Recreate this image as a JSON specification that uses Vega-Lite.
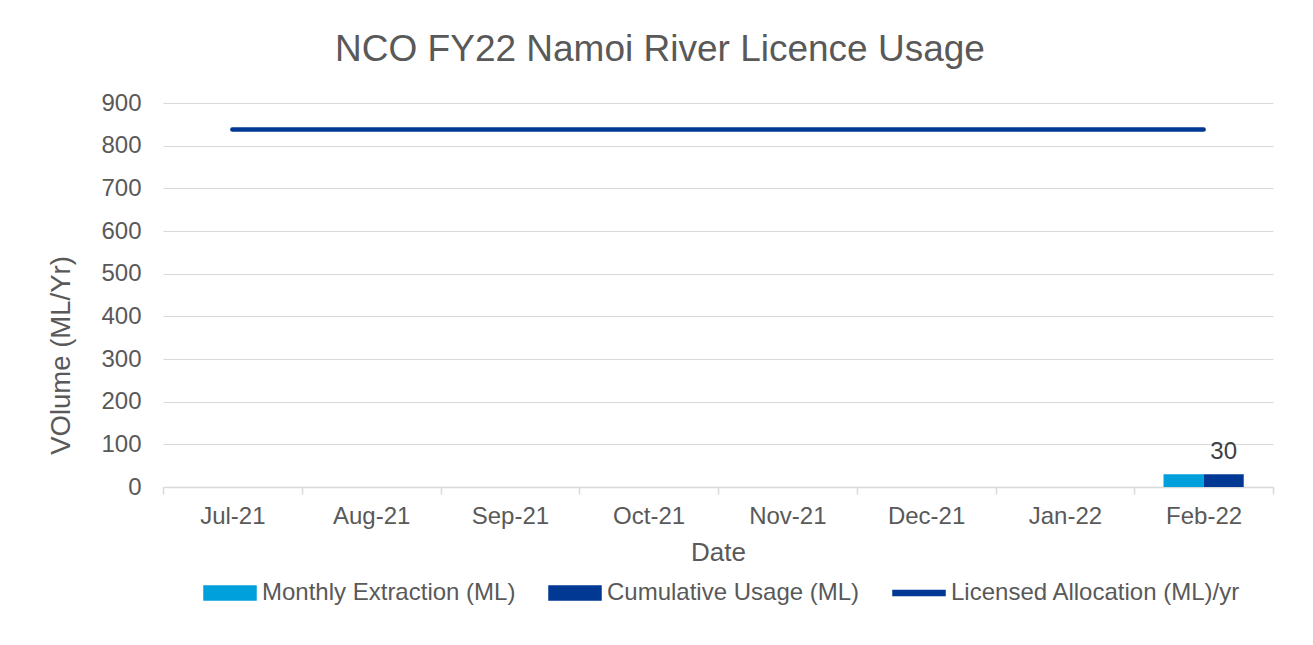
{
  "$schema": "https://vega.github.io/schema/vega-lite/v6.json",
  "width": 1110,
  "height": 384,
  "autosize": {"type": "none"},
  "padding": {"left": 163, "top": 103, "right": 40, "bottom": 158},
  "background": "white",
  "title": {
    "text": "NCO FY22 Namoi River Licence Usage",
    "anchor": "middle",
    "frame": "group",
    "dx": -58,
    "offset": -7,
    "baseline": "alphabetic",
    "font": "Liberation Sans",
    "fontSize": 37,
    "fontWeight": "normal",
    "color": "#595959"
  },
  "datasets": {
    "bars": [
      {"month": "Feb-22", "series": "Monthly Extraction (ML)", "value": 30},
      {"month": "Feb-22", "series": "Cumulative Usage (ML)", "value": 30}
    ],
    "line": [
      {"month": "Jul-21", "series": "Licensed Allocation (ML)/yr", "value": 838},
      {"month": "Aug-21", "series": "Licensed Allocation (ML)/yr", "value": 838},
      {"month": "Sep-21", "series": "Licensed Allocation (ML)/yr", "value": 838},
      {"month": "Oct-21", "series": "Licensed Allocation (ML)/yr", "value": 838},
      {"month": "Nov-21", "series": "Licensed Allocation (ML)/yr", "value": 838},
      {"month": "Dec-21", "series": "Licensed Allocation (ML)/yr", "value": 838},
      {"month": "Jan-22", "series": "Licensed Allocation (ML)/yr", "value": 838},
      {"month": "Feb-22", "series": "Licensed Allocation (ML)/yr", "value": 838}
    ]
  },
  "config": {
    "view": {"stroke": null},
    "font": "Liberation Sans",
    "axis": {
      "labelFont": "Liberation Sans",
      "titleFont": "Liberation Sans",
      "labelColor": "#595959",
      "titleColor": "#595959",
      "labelFontSize": 24,
      "titleFontSize": 26,
      "titleFontWeight": "normal",
      "gridColor": "#d9d9d9",
      "domainColor": "#d9d9d9",
      "tickColor": "#d9d9d9"
    }
  },
  "encoding": {
    "x": {
      "field": "month",
      "type": "nominal",
      "sort": null,
      "scale": {
        "domain": ["Jul-21", "Aug-21", "Sep-21", "Oct-21", "Nov-21", "Dec-21", "Jan-22", "Feb-22"],
        "paddingInner": 0,
        "paddingOuter": 0
      },
      "axis": {
        "title": "Date",
        "labelAngle": 0,
        "tickBand": "extent",
        "tickSize": 7,
        "domainWidth": 1.5,
        "tickWidth": 1.5,
        "labelPadding": 10,
        "titlePadding": 11,
        "grid": false
      }
    },
    "y": {
      "field": "value",
      "type": "quantitative",
      "scale": {"domain": [0, 900]},
      "axis": {
        "title": "VOlume (ML/Yr)",
        "values": [0, 100, 200, 300, 400, 500, 600, 700, 800, 900],
        "ticks": false,
        "tickSize": 0,
        "domain": false,
        "labelPadding": 22,
        "titlePadding": 25,
        "titleFontSize": 27.5,
        "titleY": 252,
        "grid": true,
        "gridWidth": 1.2
      }
    },
    "color": {
      "field": "series",
      "type": "nominal",
      "scale": {
        "domain": ["Monthly Extraction (ML)", "Cumulative Usage (ML)", "Licensed Allocation (ML)/yr"],
        "range": ["#00A0DC", "#003893", "#003893"]
      },
      "legend": {
        "orient": "none",
        "legendX": 40,
        "legendY": 463,
        "direction": "horizontal",
        "columns": 3,
        "title": null,
        "labelFont": "Liberation Sans",
        "labelFontSize": 24,
        "labelColor": "#595959",
        "labelLimit": 0,
        "symbolType": "M-1,-0.27L1,-0.27L1,0.27L-1,0.27Z",
        "symbolSize": 2704,
        "columnPadding": 30,
        "labelOffset": 5,
        "encode": {
          "symbols": {
            "update": {
              "fill": {"scale": "color", "field": "value"},
              "stroke": {"value": "transparent"},
              "opacity": {"value": 1},
              "shape": {"signal": "datum.value === 'Licensed Allocation (ML)/yr' ? 'M-1,-0.1L1,-0.1L1,0.1L-1,0.1Z' : 'M-1,-0.27L1,-0.27L1,0.27L-1,0.27Z'"}
            }
          }
        }
      }
    }
  },
  "layer": [
    {
      "data": {"name": "bars"},
      "mark": {"type": "bar"},
      "encoding": {
        "xOffset": {
          "field": "series",
          "type": "nominal",
          "sort": ["Monthly Extraction (ML)", "Cumulative Usage (ML)"],
          "scale": {"paddingInner": 0, "paddingOuter": 0.73}
        }
      }
    },
    {
      "data": {"name": "bars"},
      "transform": [{"filter": "datum.series === 'Cumulative Usage (ML)'"}],
      "mark": {"type": "text", "baseline": "bottom", "dy": -10, "fontSize": 24, "font": "Liberation Sans", "color": "#404040"},
      "encoding": {
        "xOffset": {
          "field": "series",
          "type": "nominal",
          "sort": ["Monthly Extraction (ML)", "Cumulative Usage (ML)"],
          "scale": {"paddingInner": 0, "paddingOuter": 0.73}
        },
        "text": {"field": "value", "type": "quantitative"},
        "color": {"value": "#404040"}
      }
    },
    {
      "data": {"name": "line"},
      "mark": {"type": "line", "strokeWidth": 4.5, "strokeCap": "round"}
    }
  ]
}
